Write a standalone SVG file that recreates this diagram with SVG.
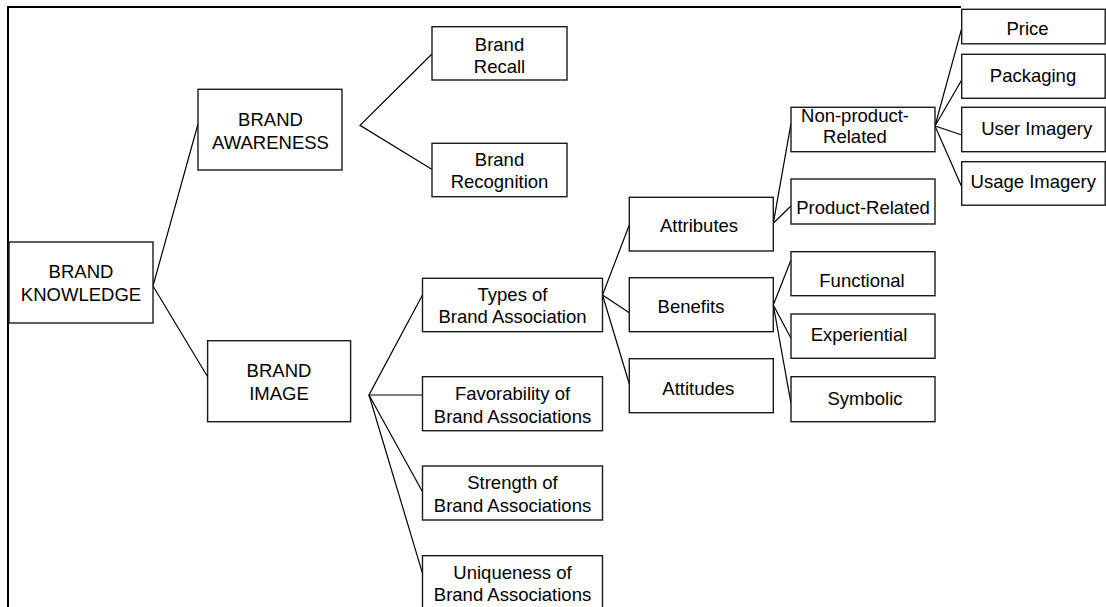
<svg xmlns="http://www.w3.org/2000/svg" width="1106" height="607" viewBox="0 0 1106 607">
<style>
.box{fill:#fff;stroke:#1a1a1a;stroke-width:1.4}
.t{font-family:"Liberation Sans",Arial,sans-serif;font-size:18.5px;fill:#000;text-anchor:middle}
.c{fill:none;stroke:#000;stroke-width:1.2}
.frame{fill:none;stroke:#000;stroke-width:2}
</style>
<rect width="1106" height="607" fill="#fff"/>
<polyline class="frame" points="961,7 8,7 8,607"/>
<g id="connectors">
<polyline class="c" points="198,124 153,286 207.6,376.7"/>
<polyline class="c" points="431.7,54.3 360,125.3 431.7,169.3"/>
<polyline class="c" points="422.5,295 369,395 422.5,395"/>
<polyline class="c" points="369,395 422.5,491.7"/>
<polyline class="c" points="369,395 422.5,573.3"/>
<polyline class="c" points="629.3,225 602.5,295 629.3,312.7"/>
<polyline class="c" points="602.5,295 629.3,384"/>
<polyline class="c" points="791,123.3 773.3,223.3 791,206"/>
<polyline class="c" points="791,260 773.3,305 791,338.3"/>
<polyline class="c" points="773.3,305 791,403.3"/>
<polyline class="c" points="961.7,28.3 935,126 961.7,80"/>
<polyline class="c" points="961.7,135 935,126 961.7,186.7"/>
</g>
<g id="brand-knowledge"><rect class="box" x="9" y="242" width="144" height="81"/><text class="t" x="81" y="278">BRAND</text><text class="t" x="81" y="301">KNOWLEDGE</text></g>
<g id="brand-awareness"><rect class="box" x="198" y="89.3" width="144" height="80.7"/><text class="t" x="270.5" y="126">BRAND</text><text class="t" x="270.5" y="149">AWARENESS</text></g>
<g id="brand-recall"><rect class="box" x="432" y="26.7" width="135" height="53.3"/><text class="t" x="499.5" y="50.7">Brand</text><text class="t" x="499.5" y="72.7">Recall</text></g>
<g id="brand-recognition"><rect class="box" x="432" y="143.3" width="135" height="53.4"/><text class="t" x="499.5" y="166">Brand</text><text class="t" x="499.5" y="188.3">Recognition</text></g>
<g id="brand-image"><rect class="box" x="207.6" y="340.7" width="143" height="81"/><text class="t" x="279" y="376.7">BRAND</text><text class="t" x="279" y="399.7">IMAGE</text></g>
<g id="types"><rect class="box" x="422.5" y="278.3" width="180" height="53.4"/><text class="t" x="512.5" y="300.7">Types of</text><text class="t" x="512.5" y="323.3">Brand Association</text></g>
<g id="favorability"><rect class="box" x="422.5" y="376.7" width="180" height="54"/><text class="t" x="512.5" y="400">Favorability of</text><text class="t" x="512.5" y="422.7">Brand Associations</text></g>
<g id="strength"><rect class="box" x="422.5" y="466" width="180" height="54"/><text class="t" x="512.5" y="489.3">Strength of</text><text class="t" x="512.5" y="511.7">Brand Associations</text></g>
<g id="uniqueness"><rect class="box" x="422.5" y="555.7" width="180" height="60"/><text class="t" x="512.5" y="579.3">Uniqueness of</text><text class="t" x="512.5" y="600.7">Brand Associations</text></g>
<g id="attributes"><rect class="box" x="629.3" y="197.3" width="144" height="53.7"/><text class="t" x="699" y="231.7">Attributes</text></g>
<g id="benefits"><rect class="box" x="629.3" y="277.7" width="144" height="54"/><text class="t" x="691" y="313.3">Benefits</text></g>
<g id="attitudes"><rect class="box" x="629.3" y="358.7" width="144" height="54"/><text class="t" x="698.3" y="395">Attitudes</text></g>
<g id="non-product-related"><rect class="box" x="791" y="107.3" width="144" height="44.4"/><text class="t" x="855" y="121.7">Non-product-</text><text class="t" x="855" y="143.3">Related</text></g>
<g id="product-related"><rect class="box" x="791" y="179" width="144" height="45"/><text class="t" x="863" y="214">Product-Related</text></g>
<g id="functional"><rect class="box" x="791" y="251.7" width="144" height="44"/><text class="t" x="862" y="286.7">Functional</text></g>
<g id="experiential"><rect class="box" x="791" y="314" width="144" height="44.3"/><text class="t" x="859" y="340.7">Experiential</text></g>
<g id="symbolic"><rect class="box" x="791" y="376.7" width="144" height="45"/><text class="t" x="865" y="405">Symbolic</text></g>
<g id="price"><rect class="box" x="961.7" y="9.3" width="143.5" height="34.5"/><text class="t" x="1027.5" y="35">Price</text></g>
<g id="packaging"><rect class="box" x="961.7" y="54.3" width="143.5" height="44"/><text class="t" x="1033" y="81.7">Packaging</text></g>
<g id="user-imagery"><rect class="box" x="961.7" y="107.3" width="143.5" height="44.4"/><text class="t" x="1036.7" y="135">User Imagery</text></g>
<g id="usage-imagery"><rect class="box" x="961.7" y="161.7" width="143.5" height="43.5"/><text class="t" x="1033.3" y="188.3">Usage Imagery</text></g>
</svg>
